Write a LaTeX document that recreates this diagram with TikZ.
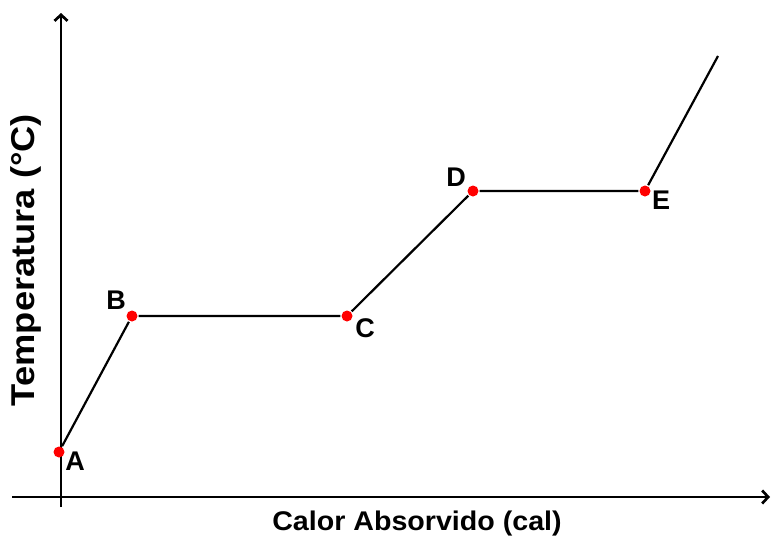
\documentclass[tikz,border=0pt]{standalone}
\usepackage{fontspec}
\setmainfont{Liberation Sans}
\usetikzlibrary{arrows.meta}

\begin{document}
\begin{tikzpicture}[x=1pt,y=-1pt,line width=2.2pt,every node/.style={inner sep=0pt},
      >={Straight Barb[length=6pt,width=13pt]},
      pto/.style={circle,fill=red,minimum size=11pt},
      letra/.style={font=\fontsize{27}{32}\selectfont\bfseries}]
      \useasboundingbox(0,0)rectangle(771,541);
      % ejes
      \coordinate(O1)at(61,507);
      \coordinate(Ytop)at(61,13);
      \coordinate(X0)at(12,497);
      \coordinate(Xfin)at(770,497);
      \draw[->,line width=2.7pt](O1)--(Ytop);
      \draw[->,line width=2.7pt](X0)--(Xfin);
      \node[letra](ejex)at(417,524){\scalebox{1.06}[1]{Calor Absorvido (cal)}};
      \node[font=\fontsize{33}{38}\selectfont\bfseries,rotate=90](ejey)at(26,260)
         {\scalebox{1.1}[1]{Temperatura (°C)}};
      % curva
      \node[pto](A)at(59,452){};
      \node[pto](B)at(132,316){};
      \node[pto](C)at(347,316){};
      \node[pto](D)at(473,191){};
      \node[pto](E)at(645,191){};
      \coordinate(F)at(718,56);
      \draw(A)--(B)--(C)--(D)--(E)--(F);
      \node[letra](lA)at(75,461){A};
      \node[letra](lB)at(116,300){B};
      \node[letra](lC)at(365,328){C};
      \node[letra](lD)at(456,177){D};
      \node[letra](lE)at(661,200){E};
    \end{tikzpicture}
\end{document}
